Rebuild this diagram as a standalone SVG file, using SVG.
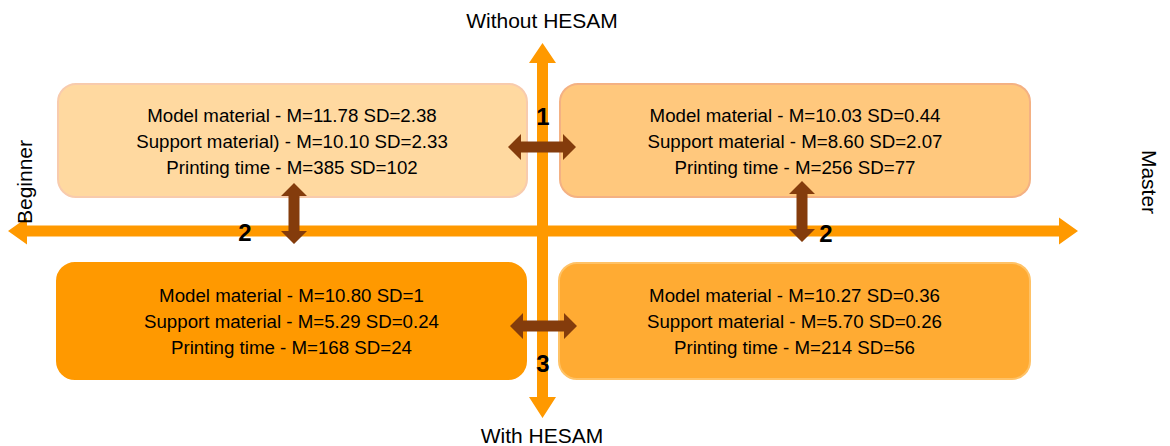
<svg xmlns="http://www.w3.org/2000/svg" width="1170" height="446" viewBox="0 0 1170 446">
<style>
.t{font-family:"Liberation Sans",Arial,sans-serif;font-size:18.7px;fill:#000;text-anchor:middle}
.ax{font-family:"Liberation Sans",Arial,sans-serif;font-size:21px;fill:#000;text-anchor:middle}
.n{font-family:"Liberation Sans",Arial,sans-serif;font-size:24px;font-weight:bold;fill:#000;text-anchor:middle}
.axis{fill:#FF9900}
.brown{fill:#843C0C}
.box{stroke-width:2}
</style>
<rect width="1170" height="446" fill="#fff"/>
<g id="axes">
<path class="axis" d="M8,231 L27,217.5 L27,225.5 L1059,225.5 L1059,217.5 L1078,231 L1059,244.5 L1059,236.5 L27,236.5 L27,244.5 Z"/>
<path class="axis" d="M542.5,43 L556,63 L548,63 L548,397 L556,397 L542.5,418 L529,397 L537,397 L537,63 L529,63 Z"/>
<text class="ax" x="542" y="28">Without HESAM</text>
<text class="ax" x="542" y="443">With HESAM</text>
<text class="ax" transform="translate(32,182) rotate(-90)">Beginner</text>
<text class="ax" transform="translate(1142,182) rotate(90)">Master</text>
</g>
<g id="node-beginner-without">
<rect class="box" x="58" y="84" width="469" height="113" rx="18" fill="#FFD9A0" stroke="#F8CBAD"/>
<text class="t" x="292" y="122">Model material - M=11.78 SD=2.38</text>
<text class="t" x="292" y="148">Support material) - M=10.10 SD=2.33</text>
<text class="t" x="292" y="174">Printing time - M=385 SD=102</text>
</g>
<g id="node-master-without">
<rect class="box" x="560" y="84" width="470" height="113" rx="18" fill="#FFC87D" stroke="#F4B183"/>
<text class="t" x="795" y="122">Model material - M=10.03 SD=0.44</text>
<text class="t" x="795" y="148">Support material - M=8.60 SD=2.07</text>
<text class="t" x="795" y="174">Printing time - M=256 SD=77</text>
</g>
<g id="node-beginner-with">
<rect class="box" x="57" y="263" width="469" height="116" rx="18" fill="#FF9900" stroke="#FF9900"/>
<text class="t" x="291.5" y="302">Model material - M=10.80 SD=1</text>
<text class="t" x="291.5" y="328">Support material - M=5.29 SD=0.24</text>
<text class="t" x="291.5" y="354">Printing time - M=168 SD=24</text>
</g>
<g id="node-master-with">
<rect class="box" x="559" y="263" width="471" height="116" rx="18" fill="#FFAB33" stroke="#FFC266"/>
<text class="t" x="794.5" y="302">Model material - M=10.27 SD=0.36</text>
<text class="t" x="794.5" y="328">Support material - M=5.70 SD=0.26</text>
<text class="t" x="794.5" y="354">Printing time - M=214 SD=56</text>
</g>
<g id="connectors">
<path class="brown" d="M508,147 L521,134 L521,141.5 L563,141.5 L563,134 L576,147 L563,160 L563,152.5 L521,152.5 L521,160 Z"/>
<path class="brown" d="M510,326 L523,313 L523,320.5 L564,320.5 L564,313 L577,326 L564,339 L564,331.5 L523,331.5 L523,339 Z"/>
<path class="brown" d="M294,183 L307,196 L299.5,196 L299.5,231 L307,231 L294,244 L281,231 L288.5,231 L288.5,196 L281,196 Z"/>
<path class="brown" d="M802,181 L815,194 L807.5,194 L807.5,229 L815,229 L802,242 L789,229 L796.5,229 L796.5,194 L789,194 Z"/>
<text class="n" x="543" y="125">1</text>
<text class="n" x="245" y="241">2</text>
<text class="n" x="826" y="242">2</text>
<text class="n" x="543" y="372">3</text>
</g>
</svg>
